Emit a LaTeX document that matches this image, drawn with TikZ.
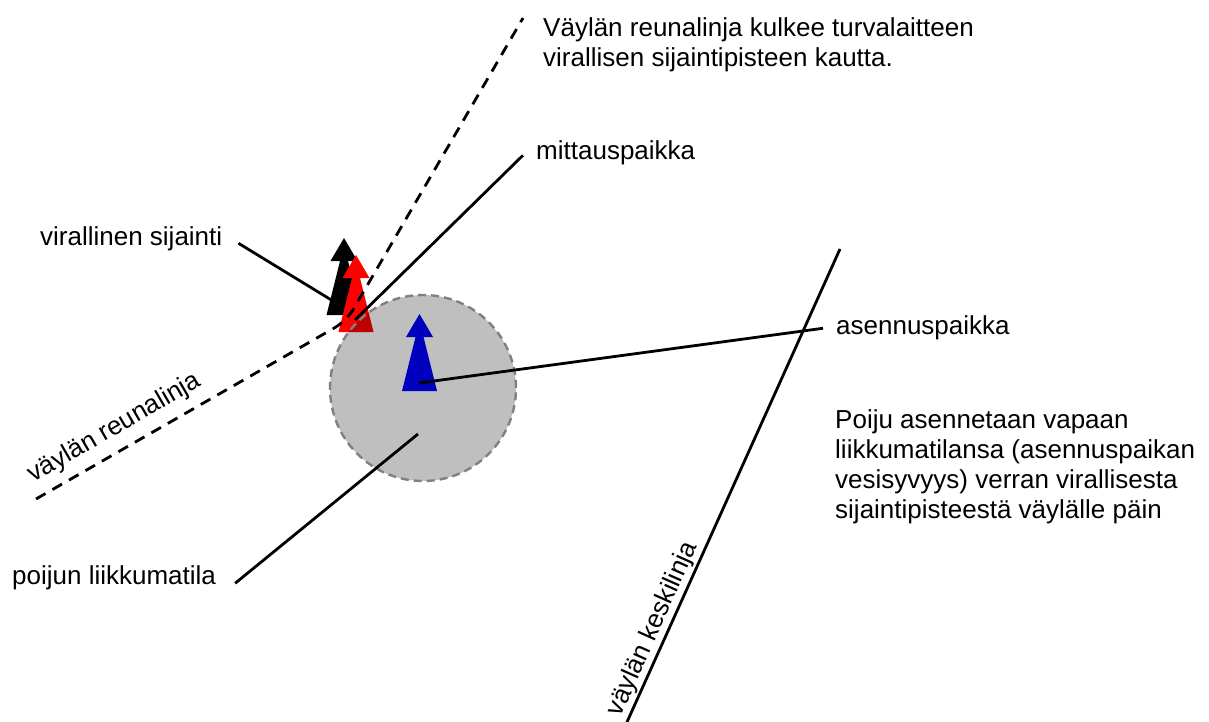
\documentclass[tikz,border=0pt]{standalone}
\usepackage{fontspec}
\setmainfont{Liberation Sans}
\definecolor{markblue}{RGB}{0,0,255}
\begin{document}
\begin{tikzpicture}[x=1pt,y=-1pt,
  lbl/.style={font=\fontsize{26}{30}\selectfont, inner sep=0pt, anchor=base west},
  rotlbl/.style={font=\fontsize{26}{30}\selectfont, inner sep=0pt, anchor=base},
  leader/.style={line width=2.8pt},
  edgeline/.style={line width=2.8pt, dash pattern=on 11pt off 8pt, rounded corners=14pt},
  zonestyle/.style={circle, minimum size=186pt, inner sep=0pt, fill=black, fill opacity=0.25,
    draw=gray, line width=2.4pt, dash pattern=on 8pt off 5pt},
  pics/marker/.style={code={
    \fill[#1] (-17.5,0) -- (17.5,0) -- (0,-70) -- cycle;
    \fill[#1] (-13.5,-54) -- (13.5,-54) -- (0,-77) -- cycle;}}]
\useasboundingbox (0,0) rectangle (1209,722);

% buoy markers: official position, measuring point, installation point
\pic at (344,315) {marker=black};
\pic at (356,332) {marker=red};
\pic at (419.5,391) {marker=markblue};

% free movement area of the buoy
\node[zonestyle] (zone) at (423,388) {};

% fairway edge line
\draw[edgeline] (36,499) -- (346.5,321) -- (523,18);

% fairway centre line
\coordinate (cl-top) at (840,249);
\coordinate (cl-bot) at (627,722);
\draw[leader] (cl-top) -- (cl-bot);

% texts (multi-line nodes are placed by the baseline of their last line)
\node[lbl, align=left] (topnote) at (543,67)
  {Väylän reunalinja kulkee turvalaitteen\\virallisen sijaintipisteen kautta.};
\node[lbl] (meas) at (536,160) {mittauspaikka};
\node[lbl] (offi) at (40,245) {virallinen sijainti};
\node[lbl] (inst) at (836,334) {asennuspaikka};
\node[lbl] (area) at (12,584) {poijun liikkumatila};
\node[lbl, align=left] (note) at (835,518)
  {Poiju asennetaan vapaan\\liikkumatilansa (asennuspaikan\\vesisyvyys) verran virallisesta\\sijaintipisteestä väylälle päin};
\node[rotlbl, rotate=30] (edgelbl) at (118,434) {väylän reunalinja};
\node[rotlbl, rotate=66] (centrelbl) at (659,632) {väylän keskilinja};

% leader lines
\coordinate (offi-tip) at (333,301);
\coordinate (meas-tip) at (355,320);
\coordinate (inst-tip) at (419,383);
\coordinate (area-tip) at (418,434);
\draw[leader] (offi.east) ++(16,5) -- (offi-tip);
\draw[leader] (meas.west) ++(-13,2) -- (meas-tip);
\draw[leader] (inst.west) ++(-13,1) -- (inst-tip);
\draw[leader] (area.east) ++(19,6) -- (area-tip);
\end{tikzpicture}
\end{document}
